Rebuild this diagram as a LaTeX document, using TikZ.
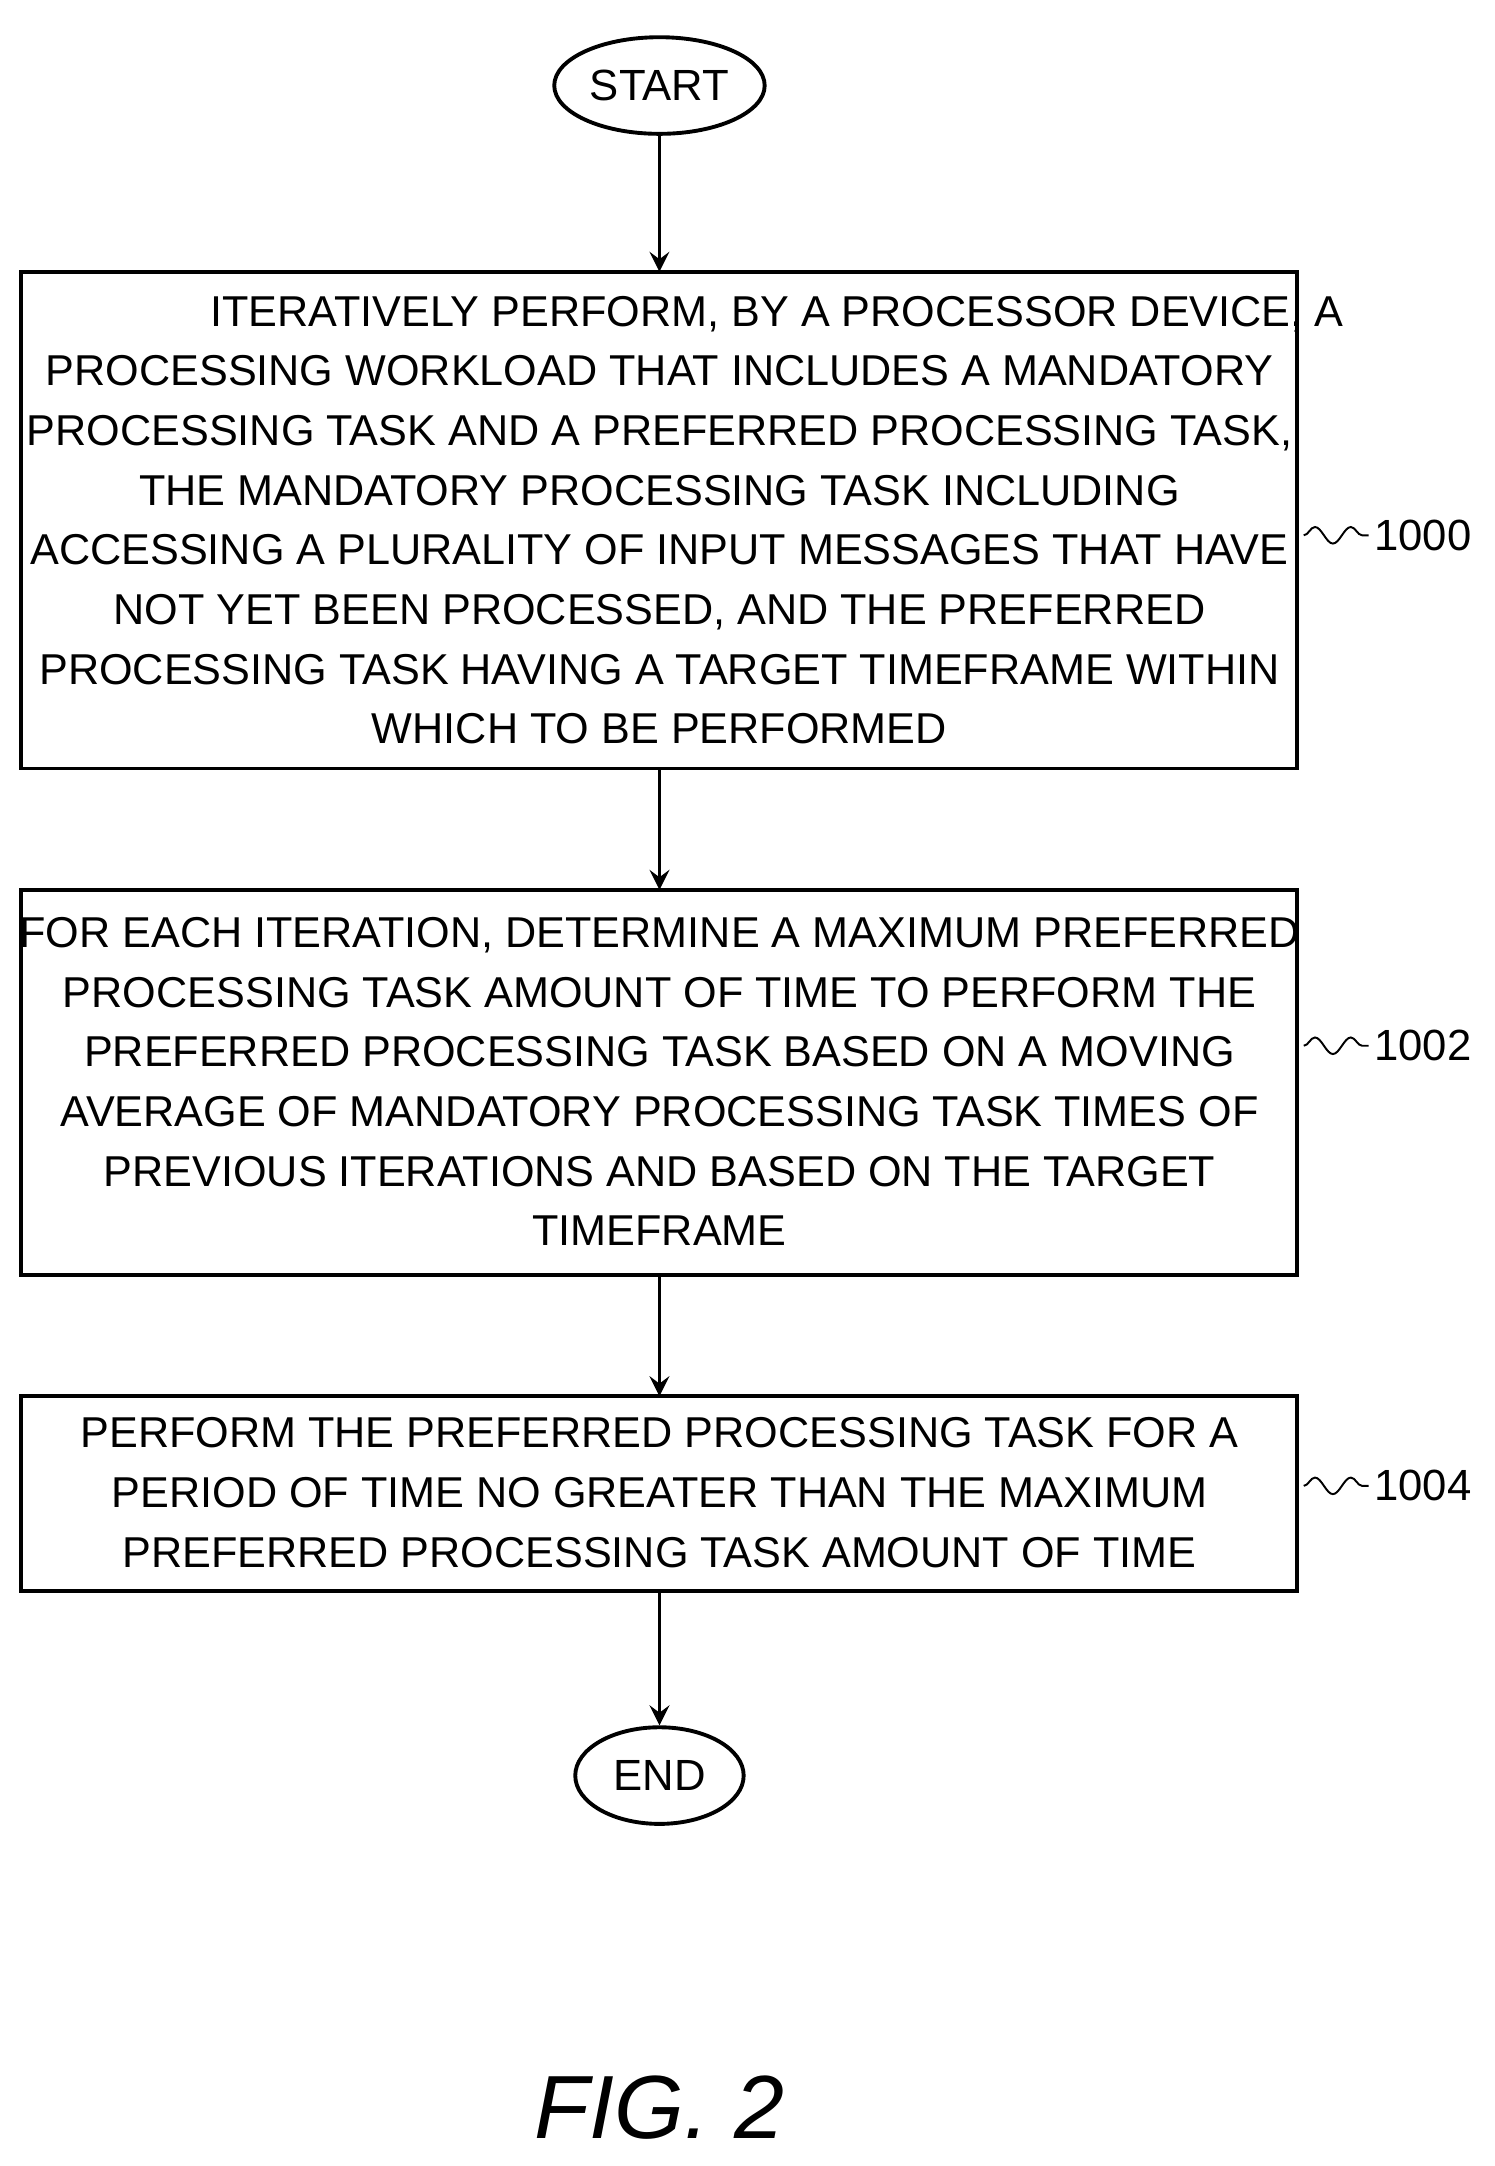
\documentclass[tikz,border=0pt]{standalone}
\usepackage{fontspec}
\setmainfont{Liberation Sans}
\usetikzlibrary{shapes.geometric,decorations.pathmorphing}

\tikzset{
	term/.style = {draw, ellipse, thick, minimum width = 1.22cm, minimum height = 0.7cm, inner sep = 1pt, font = \fontsize{9}{11}\selectfont},
	body/.style = {align = center, font = \fontsize{8.9}{12.3}\selectfont},
	flow/.style = {thick, ->, >=stealth},
	ref/.style = {font = \fontsize{9}{11}\selectfont},
	wave/.style = {thin, decorate, decoration = {snake, amplitude = 0.6mm, segment length = 2.6mm}}
}

\begin{document}
\begin{tikzpicture}[x = 0.01cm, y = -0.01cm]
	\useasboundingbox (0, 0) rectangle (1083, 1570);

	\node[term] (start) at (478, 62) {START};

	\draw[thick] (15, 197) rectangle (940, 557);
	\node[body] (b1) at (478, 377) {\hspace*{1.7cm}ITERATIVELY PERFORM, BY A PROCESSOR DEVICE, A\\ PROCESSING WORKLOAD THAT INCLUDES A MANDATORY\\ PROCESSING TASK AND A PREFERRED PROCESSING TASK,\\ THE MANDATORY PROCESSING TASK INCLUDING\\ ACCESSING A PLURALITY OF INPUT MESSAGES THAT HAVE\\ NOT YET BEEN PROCESSED, AND THE PREFERRED\\ PROCESSING TASK HAVING A TARGET TIMEFRAME WITHIN\\ WHICH TO BE PERFORMED};
	\coordinate (b1t) at (478, 197);
	\coordinate (b1b) at (478, 557);

	\draw[thick] (15, 645) rectangle (940, 924);
	\node[body] (b2) at (478, 784) {FOR EACH ITERATION, DETERMINE A MAXIMUM PREFERRED\\ PROCESSING TASK AMOUNT OF TIME TO PERFORM THE\\ PREFERRED PROCESSING TASK BASED ON A MOVING\\ AVERAGE OF MANDATORY PROCESSING TASK TIMES OF\\ PREVIOUS ITERATIONS AND BASED ON THE TARGET\\ TIMEFRAME};
	\coordinate (b2t) at (478, 645);
	\coordinate (b2b) at (478, 924);

	\draw[thick] (15, 1012) rectangle (940, 1153);
	\node[body] (b3) at (478, 1082) {PERFORM THE PREFERRED PROCESSING TASK FOR A\\ PERIOD OF TIME NO GREATER THAN THE MAXIMUM\\ PREFERRED PROCESSING TASK AMOUNT OF TIME};
	\coordinate (b3t) at (478, 1012);
	\coordinate (b3b) at (478, 1153);

	\node[term] (end) at (478, 1287) {END};

	\draw[flow] (start) -- (b1t);
	\draw[flow] (b1b) -- (b2t);
	\draw[flow] (b2b) -- (b3t);
	\draw[flow] (b3b) -- (end);

	\node[ref, anchor = west, inner sep = 1pt] (r1000) at (992, 388) {1000};
	\node[ref, anchor = west, inner sep = 1pt] (r1002) at (992, 758) {1002};
	\node[ref, anchor = west, inner sep = 1pt] (r1004) at (992, 1077) {1004};
	\coordinate (w1) at (945, 388);
	\coordinate (w2) at (945, 758);
	\coordinate (w3) at (945, 1077);
	\draw[wave] (w1) -- (r1000.west);
	\draw[wave] (w2) -- (r1002.west);
	\draw[wave] (w3) -- (r1004.west);

	\node[font = \fontsize{18.5}{22}\selectfont\itshape] (fig) at (478, 1528) {FIG. 2};
\end{tikzpicture}
\end{document}
